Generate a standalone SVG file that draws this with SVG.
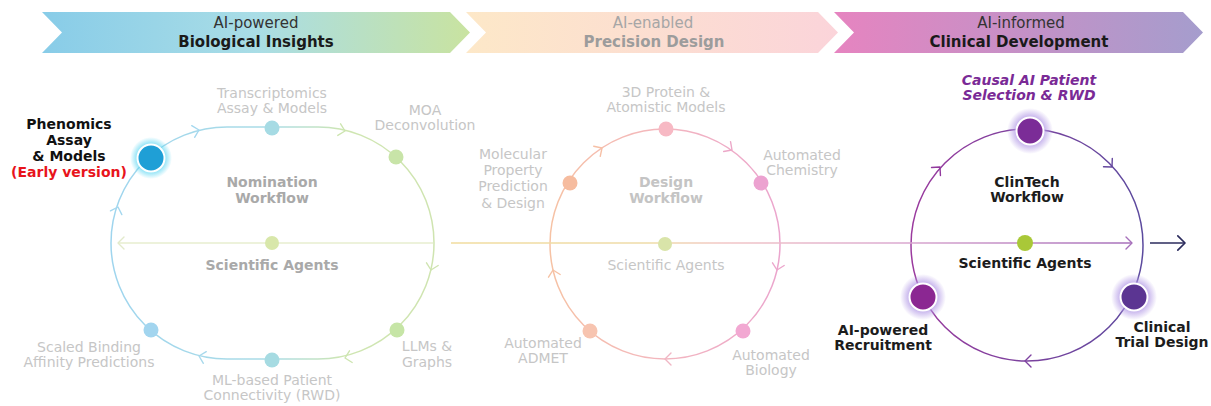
<svg xmlns="http://www.w3.org/2000/svg" xmlns:xlink="http://www.w3.org/1999/xlink" width="1211" height="406" viewBox="0 0 1211 406">
  <defs>
    <style>
      text { font-family: "DejaVu Sans", Verdana, sans-serif; text-anchor: middle; }
      .banner { font-size: 15px; }
      .lbl { font-size: 14px; }
      .b { font-weight: bold; }
      .faint { fill: #c6c6c6; }
      .mid { fill: #a9a9a9; }
      .dark { fill: #1c1c1c; }
      .chev { fill: none; stroke-width: 1.4; stroke-linecap: round; stroke-linejoin: round; }
      .ring { fill: none; stroke-width: 1.5; }
    </style>
    <!-- open chevron pointing along +x, tip at the origin -->
    <path id="chev" d="M-6,-6 L0,0 L-6,6"/>
    <linearGradient id="gBio" x1="0" y1="0" x2="1" y2="0">
      <stop offset="0" stop-color="#88cce8"/>
      <stop offset="0.5" stop-color="#a9dde6"/>
      <stop offset="1" stop-color="#c9e3a0"/>
    </linearGradient>
    <linearGradient id="gDes" x1="0" y1="0" x2="1" y2="0">
      <stop offset="0" stop-color="#fde8c8"/>
      <stop offset="1" stop-color="#fbd4da"/>
    </linearGradient>
    <linearGradient id="gClin" x1="0" y1="0" x2="1" y2="0">
      <stop offset="0" stop-color="#e684c0"/>
      <stop offset="1" stop-color="#a59dcd"/>
    </linearGradient>
    <linearGradient id="sNom" gradientUnits="userSpaceOnUse" x1="111" y1="0" x2="434" y2="0">
      <stop offset="0" stop-color="#9fd5ee"/>
      <stop offset="0.5" stop-color="#aadce6"/>
      <stop offset="0.72" stop-color="#cfe6b2"/>
      <stop offset="1" stop-color="#cfe4b0"/>
    </linearGradient>
    <linearGradient id="sDes" gradientUnits="userSpaceOnUse" x1="550" y1="0" x2="780" y2="0">
      <stop offset="0" stop-color="#f6c2a4"/>
      <stop offset="0.5" stop-color="#f3b6bf"/>
      <stop offset="1" stop-color="#eba5cd"/>
    </linearGradient>
    <linearGradient id="sClin" gradientUnits="userSpaceOnUse" x1="910" y1="0" x2="1144" y2="0">
      <stop offset="0" stop-color="#9b3a9e"/>
      <stop offset="1" stop-color="#5b4a9e"/>
    </linearGradient>
    <linearGradient id="sAxis" gradientUnits="userSpaceOnUse" x1="451" y1="0" x2="1132" y2="0">
      <stop offset="0" stop-color="#f1dc9e"/>
      <stop offset="0.3" stop-color="#eedba8"/>
      <stop offset="0.4" stop-color="#f2c6c6"/>
      <stop offset="0.65" stop-color="#dcaad0"/>
      <stop offset="1" stop-color="#a66fba"/>
    </linearGradient>
    <radialGradient id="glowCyan">
      <stop offset="0.55" stop-color="#5ad6f2" stop-opacity="0.9"/>
      <stop offset="1" stop-color="#5ad6f2" stop-opacity="0"/>
    </radialGradient>
    <radialGradient id="glowLav">
      <stop offset="0.55" stop-color="#b39ae6" stop-opacity="0.85"/>
      <stop offset="1" stop-color="#b39ae6" stop-opacity="0"/>
    </radialGradient>
  </defs>

  <rect width="1211" height="406" fill="#ffffff"/>

  <!-- phase banner -->
  <g id="banner-bio">
    <path d="M42,12 L450,12 L470,32.5 L450,53 L42,53 L62,32.5 Z" fill="url(#gBio)"/>
    <text class="banner" x="256" y="28" fill="#333333">AI-powered</text>
    <text class="banner b" x="256" y="47" fill="#1a1a1a">Biological Insights</text>
  </g>
  <g id="banner-design">
    <path d="M466,12 L818,12 L838,32.5 L818,53 L466,53 L486,32.5 Z" fill="url(#gDes)"/>
    <text class="banner" x="653" y="28" fill="#a6a6a6">AI-enabled</text>
    <text class="banner b" x="654" y="47" fill="#9c9c9c">Precision Design</text>
  </g>
  <g id="banner-clin">
    <path d="M834,12 L1183,12 L1203,32.5 L1183,53 L834,53 L854,32.5 Z" fill="url(#gClin)"/>
    <text class="banner" x="1021" y="28" fill="#333333">AI-informed</text>
    <text class="banner b" x="1019" y="47" fill="#1a1a1a">Clinical Development</text>
  </g>

  <!-- workflow loops, axis and direction chevrons -->
  <g id="connectors">
    <!-- Nomination loop (stadium) -->
    <path class="ring" stroke="url(#sNom)" d="M227,127 L318,127 A116,116 0 0 1 318,359 L227,359 A116,116 0 0 1 227,127 Z"/>
    <!-- Design loop -->
    <circle class="ring" stroke="url(#sDes)" cx="665" cy="244" r="115"/>
    <!-- ClinTech loop -->
    <circle class="ring" stroke="url(#sClin)" cx="1027" cy="245" r="116"/>

    <!-- Scientific agents axis -->
    <line x1="433" y1="243" x2="118" y2="243" stroke="#e7eecf" stroke-width="1.5"/>
    <use xlink:href="#chev" class="chev" stroke="#e2eacb" transform="translate(118,243) rotate(180)"/>
    <line x1="451" y1="243" x2="1132" y2="243" stroke="url(#sAxis)" stroke-width="1.5"/>
    <use xlink:href="#chev" class="chev" stroke="#a66fba" transform="translate(1132,243)"/>
    <line x1="1150" y1="243" x2="1185" y2="243" stroke="#2b2b5c" stroke-width="1.5"/>
    <use xlink:href="#chev" class="chev" stroke="#2b2b5c" transform="translate(1185,243) scale(1.2)"/>

    <!-- Nomination chevrons -->
    <use xlink:href="#chev" class="chev" stroke="#a5d8ef" transform="translate(118,207) rotate(-72)"/>
    <use xlink:href="#chev" class="chev" stroke="#a5d8ef" transform="translate(199,130) rotate(-14)"/>
    <use xlink:href="#chev" class="chev" stroke="#cde5b0" transform="translate(345,131) rotate(13.5)"/>
    <use xlink:href="#chev" class="chev" stroke="#cfe4b0" transform="translate(431,270) rotate(103)"/>
    <use xlink:href="#chev" class="chev" stroke="#cde5b0" transform="translate(345,358) rotate(167)"/>
    <use xlink:href="#chev" class="chev" stroke="#a8d9ec" transform="translate(199,356) rotate(194)"/>

    <!-- Design chevrons -->
    <use xlink:href="#chev" class="chev" stroke="#f6c0a6" transform="translate(602,148) rotate(-33)"/>
    <use xlink:href="#chev" class="chev" stroke="#eca8c8" transform="translate(732,150) rotate(35)"/>
    <use xlink:href="#chev" class="chev" stroke="#eca6cc" transform="translate(777,270) rotate(103)"/>
    <use xlink:href="#chev" class="chev" stroke="#f0b6c4" transform="translate(665,359) rotate(180)"/>
    <use xlink:href="#chev" class="chev" stroke="#f6c2a4" transform="translate(553,270) rotate(-103)"/>

    <!-- ClinTech chevrons -->
    <use xlink:href="#chev" class="chev" stroke="#92399e" transform="translate(940,167) rotate(-48)"/>
    <use xlink:href="#chev" class="chev" stroke="#64479e" transform="translate(1112,167) rotate(47)"/>
    <use xlink:href="#chev" class="chev" stroke="#7e42a0" transform="translate(1025,361) rotate(180)"/>
  </g>

  <!-- Nomination workflow -->
  <g id="node-phenomics">
    <circle cx="151" cy="158" r="21" fill="url(#glowCyan)"/>
    <circle cx="151" cy="158" r="13.5" fill="#1f9fd6" stroke="#ffffff" stroke-width="2"/>
    <text class="lbl b" x="69" y="129" fill="#111111">Phenomics</text>
    <text class="lbl b" x="69" y="145" fill="#111111">Assay</text>
    <text class="lbl b" x="69" y="161" fill="#111111">&amp; Models</text>
    <text class="lbl b" x="69" y="177" fill="#e8141c">(Early version)</text>
  </g>
  <g id="node-transcriptomics">
    <circle cx="272" cy="128" r="7.5" fill="#a6dbe4"/>
    <text class="lbl faint" x="272" y="98">Transcriptomics</text>
    <text class="lbl faint" x="272" y="113">Assay &amp; Models</text>
  </g>
  <g id="node-moa">
    <circle cx="396" cy="157" r="7.5" fill="#c8e4a8"/>
    <text class="lbl faint" x="425" y="115">MOA</text>
    <text class="lbl faint" x="425" y="130">Deconvolution</text>
  </g>
  <g id="node-llms">
    <circle cx="397" cy="330" r="7.5" fill="#c6e5a6"/>
    <text class="lbl faint" x="427" y="351">LLMs &amp;</text>
    <text class="lbl faint" x="427" y="367">Graphs</text>
  </g>
  <g id="node-ml-patient">
    <circle cx="272" cy="360" r="7.5" fill="#a6dbe2"/>
    <text class="lbl faint" x="272" y="385">ML-based Patient</text>
    <text class="lbl faint" x="272" y="400">Connectivity (RWD)</text>
  </g>
  <g id="node-binding">
    <circle cx="151" cy="330" r="7.5" fill="#a2d5ef"/>
    <text class="lbl faint" x="89" y="352">Scaled Binding</text>
    <text class="lbl faint" x="89" y="367">Affinity Predictions</text>
  </g>
  <g id="node-nomination-agents">
    <circle cx="272" cy="243" r="7" fill="#d8e7aa"/>
    <text class="lbl b mid" x="272" y="187">Nomination</text>
    <text class="lbl b mid" x="272" y="203">Workflow</text>
    <text class="lbl b mid" x="272" y="270">Scientific Agents</text>
  </g>

  <!-- Design workflow -->
  <g id="node-protein">
    <circle cx="666" cy="129" r="7.5" fill="#f7b9c4"/>
    <text class="lbl faint" x="666" y="97">3D Protein &amp;</text>
    <text class="lbl faint" x="666" y="112">Atomistic Models</text>
  </g>
  <g id="node-chemistry">
    <circle cx="761" cy="183" r="7.5" fill="#eca2d0"/>
    <text class="lbl faint" x="802" y="160">Automated</text>
    <text class="lbl faint" x="802" y="175">Chemistry</text>
  </g>
  <g id="node-biology">
    <circle cx="743" cy="331" r="7.5" fill="#f2a8d2"/>
    <text class="lbl faint" x="771" y="360">Automated</text>
    <text class="lbl faint" x="771" y="375">Biology</text>
  </g>
  <g id="node-admet">
    <circle cx="590" cy="331" r="7.5" fill="#f7c4b0"/>
    <text class="lbl faint" x="543" y="348">Automated</text>
    <text class="lbl faint" x="543" y="363">ADMET</text>
  </g>
  <g id="node-property">
    <circle cx="570" cy="183" r="7.5" fill="#f6bc9f"/>
    <text class="lbl faint" x="513" y="159">Molecular</text>
    <text class="lbl faint" x="513" y="175">Property</text>
    <text class="lbl faint" x="513" y="191">Prediction</text>
    <text class="lbl faint" x="513" y="208">&amp; Design</text>
  </g>
  <g id="node-design-agents">
    <circle cx="665" cy="244" r="7" fill="#d9e4a9"/>
    <text class="lbl b" x="666" y="187" fill="#c4c4c4">Design</text>
    <text class="lbl b" x="666" y="203" fill="#c4c4c4">Workflow</text>
    <text class="lbl faint" x="666" y="270">Scientific Agents</text>
  </g>

  <!-- ClinTech workflow -->
  <g id="node-causal">
    <circle cx="1030" cy="131" r="23" fill="url(#glowLav)"/>
    <circle cx="1030" cy="131" r="13.5" fill="#7b2c97" stroke="#ffffff" stroke-width="2"/>
    <text class="lbl b" x="1029" y="85" fill="#7a2a96" font-style="italic">Causal AI Patient</text>
    <text class="lbl b" x="1029" y="100" fill="#7a2a96" font-style="italic">Selection &amp; RWD</text>
  </g>
  <g id="node-recruitment">
    <circle cx="923" cy="297" r="23" fill="url(#glowLav)"/>
    <circle cx="923" cy="297" r="13.5" fill="#8b2792" stroke="#ffffff" stroke-width="2"/>
    <text class="lbl b dark" x="883" y="335">AI-powered</text>
    <text class="lbl b dark" x="883" y="350">Recruitment</text>
  </g>
  <g id="node-trial">
    <circle cx="1134" cy="297" r="23" fill="url(#glowLav)"/>
    <circle cx="1134" cy="297" r="13.5" fill="#5b3592" stroke="#ffffff" stroke-width="2"/>
    <text class="lbl b dark" x="1162" y="332">Clinical</text>
    <text class="lbl b dark" x="1162" y="347">Trial Design</text>
  </g>
  <g id="node-clin-agents">
    <circle cx="1025" cy="243" r="8" fill="#a9c838"/>
    <text class="lbl b dark" x="1027" y="187">ClinTech</text>
    <text class="lbl b dark" x="1027" y="202">Workflow</text>
    <text class="lbl b dark" x="1025" y="268">Scientific Agents</text>
  </g>
</svg>
